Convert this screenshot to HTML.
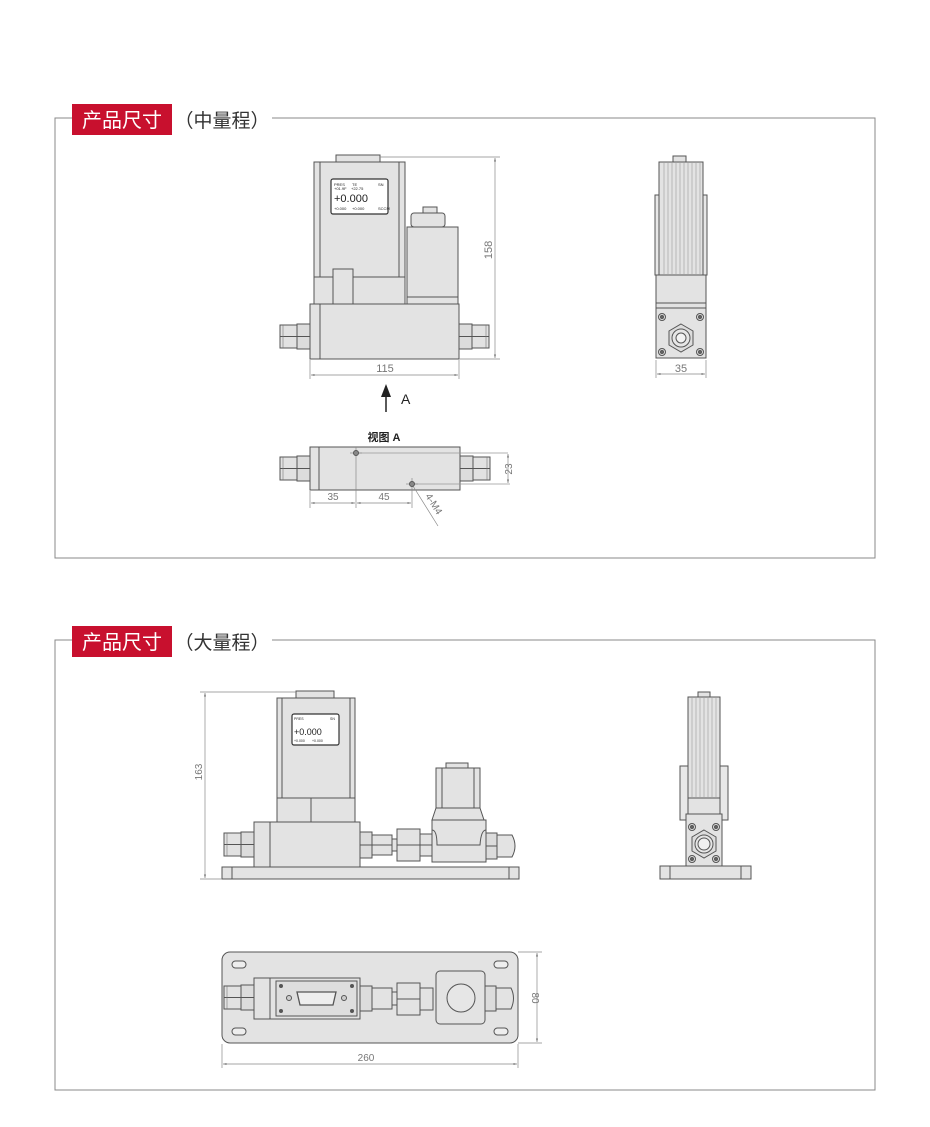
<!DOCTYPE html>
<html><head><meta charset="utf-8"><style>
html,body{margin:0;padding:0;background:#fff;}
svg{display:block;}
text{font-family:"Liberation Sans","Noto Sans CJK SC",sans-serif;}
</style></head><body>
<svg width="930" height="1127" viewBox="0 0 930 1127" xmlns="http://www.w3.org/2000/svg">
<defs>
<marker id="ar" viewBox="0 0 10 10" refX="10" refY="5" markerWidth="7" markerHeight="5" orient="auto-start-reverse"><path d="M0,2 L10,5 L0,8z" fill="#777"/></marker>
<g id="fitL">
 <rect x="0" y="1" width="17" height="23" fill="#e2e2e2" stroke="#555" stroke-width="1"/>
 <line x1="0" y1="12.5" x2="17" y2="12.5" stroke="#555"/>
 <line x1="3" y1="1" x2="3" y2="24" stroke="#777" stroke-width="0.6"/>
 <rect x="17" y="0" width="13" height="25" fill="#dcdcdc" stroke="#555"/>
 <line x1="17" y1="12.5" x2="30" y2="12.5" stroke="#555"/>
</g>
<g id="screw"><circle r="3.5" fill="#ddd" stroke="#555"/><circle r="1.5" fill="#666"/></g>
</defs>
<g stroke="#555" stroke-width="1" fill="#e3e3e3">

<!-- ===== Section 1 frame ===== -->
<path d="M72,118 H55 V558 H875 V118 H272" fill="none" stroke="#888"/>
<rect x="72" y="104" width="100" height="31" fill="#c8102e" stroke="none"/>
<text x="122" y="127" font-size="20" fill="#fff" stroke="none" text-anchor="middle">产品尺寸</text>
<text x="222" y="127" font-size="19" fill="#333" stroke="none" text-anchor="middle">（中量程）</text>

<!-- main view -->
<rect x="336" y="155" width="44" height="7"/>
<rect x="314" y="162" width="91" height="115"/>
<line x1="320" y1="162" x2="320" y2="277"/><line x1="399" y1="162" x2="399" y2="277"/>
<rect x="331" y="179" width="57" height="35" rx="2" fill="#fff" stroke="#333" stroke-width="1.2"/>
<g fill="#222" stroke="none" font-size="4">
<text x="334" y="186">PRES</text><text x="352" y="186">TE</text><text x="378" y="186">SN</text>
<text x="334" y="190">+01.9F</text><text x="351" y="190">+22.75</text>
<text x="334" y="202" font-size="11" font-family="Liberation Mono">+0.000</text>
<text x="334" y="210">+0.000</text><text x="352" y="210">+0.000</text><text x="378" y="210">SCCM</text>
</g>
<rect x="314" y="277" width="91" height="27"/>
<rect x="333" y="269" width="20" height="35" fill="#e3e3e3"/>
<rect x="423" y="207" width="14" height="7"/>
<rect x="411" y="213" width="34" height="14" rx="3"/>
<rect x="407" y="227" width="51" height="77"/>
<line x1="407" y1="297" x2="458" y2="297"/>
<rect x="310" y="304" width="149" height="55"/>
<line x1="320" y1="304" x2="320" y2="359"/>
<use href="#fitL" x="280" y="324"/>
<use href="#fitL" transform="translate(489,324) scale(-1,1)"/>
<!-- dims -->
<g stroke="#888" stroke-width="0.7" fill="none">
<line x1="380" y1="157" x2="500" y2="157"/><line x1="459" y1="359" x2="500" y2="359"/>
<line x1="495" y1="158" x2="495" y2="358" marker-start="url(#ar)" marker-end="url(#ar)"/>
<line x1="310" y1="360" x2="310" y2="379"/><line x1="459" y1="360" x2="459" y2="379"/>
<line x1="311" y1="375" x2="458" y2="375" marker-start="url(#ar)" marker-end="url(#ar)"/>
</g>
<text x="0" y="0" transform="translate(492,250) rotate(-90)" font-size="11" fill="#777" stroke="none" text-anchor="middle">158</text>
<text x="385" y="372" font-size="11" fill="#777" stroke="none" text-anchor="middle">115</text>
<line x1="386" y1="396" x2="386" y2="412" stroke="#222" stroke-width="1.5"/>
<path d="M381,397 L386,384 L391,397z" fill="#222" stroke="none"/>
<text x="401" y="404" font-size="14" fill="#222" stroke="none" font-family="Liberation Serif">A</text>

<!-- view A -->
<text x="384" y="441" font-size="11" fill="#222" stroke="none" text-anchor="middle" font-weight="bold">视图 A</text>
<rect x="310" y="447" width="150" height="43"/>
<line x1="319" y1="447" x2="319" y2="490"/>
<use href="#fitL" x="280" y="456"/>
<use href="#fitL" transform="translate(490,456) scale(-1,1)"/>
<g stroke="#888" stroke-width="0.7" fill="none">
<line x1="356" y1="453" x2="508" y2="453" stroke="#999"/><line x1="412" y1="484" x2="510" y2="484" stroke="#999"/>
<line x1="350" y1="453" x2="362" y2="453"/><line x1="356" y1="447" x2="356" y2="508"/>
<line x1="406" y1="484" x2="418" y2="484"/><line x1="412" y1="478" x2="412" y2="508"/>
<line x1="508" y1="454" x2="508" y2="483" marker-start="url(#ar)" marker-end="url(#ar)"/>
<line x1="310" y1="491" x2="310" y2="508"/>
<line x1="311" y1="503" x2="355" y2="503" marker-start="url(#ar)" marker-end="url(#ar)"/>
<line x1="357" y1="503" x2="411" y2="503" marker-start="url(#ar)" marker-end="url(#ar)"/>
<line x1="413" y1="486" x2="438" y2="526"/>
</g>
<circle cx="356" cy="453" r="2.5" fill="#888"/><circle cx="412" cy="484" r="2.5" fill="#888"/>
<text x="512" y="469" font-size="10" fill="#777" stroke="none" transform="rotate(-90 512 469)" text-anchor="middle">23</text>
<text x="333" y="500" font-size="10" fill="#777" stroke="none" text-anchor="middle">35</text>
<text x="384" y="500" font-size="10" fill="#777" stroke="none" text-anchor="middle">45</text>
<text x="0" y="0" transform="translate(425,496) rotate(58)" font-size="10" fill="#777" stroke="none">4-M4</text>

<!-- side view top -->
<rect x="673" y="156" width="13" height="6"/>
<rect x="655" y="195" width="52" height="80" fill="#e8e8e8"/>
<rect x="659" y="162" width="44" height="113"/>
<g stroke="#999" stroke-width="0.6">
<line x1="664" y1="163" x2="664" y2="274"/><line x1="668" y1="163" x2="668" y2="274"/><line x1="672" y1="163" x2="672" y2="274"/><line x1="676" y1="163" x2="676" y2="274"/><line x1="680" y1="163" x2="680" y2="274"/><line x1="684" y1="163" x2="684" y2="274"/><line x1="688" y1="163" x2="688" y2="274"/><line x1="692" y1="163" x2="692" y2="274"/><line x1="696" y1="163" x2="696" y2="274"/><line x1="700" y1="163" x2="700" y2="274"/>
</g>
<rect x="656" y="275" width="50" height="28"/>
<rect x="656" y="303" width="50" height="5"/>
<rect x="656" y="308" width="50" height="50"/>
<use href="#screw" x="662" y="317"/><use href="#screw" x="700" y="317"/>
<use href="#screw" x="662" y="352"/><use href="#screw" x="700" y="352"/>
<polygon points="681,324 693,331 693,345 681,352 669,345 669,331" fill="#ddd"/>
<circle cx="681" cy="338" r="9" fill="#e6e6e6"/><circle cx="681" cy="338" r="5" fill="#f3f3f3"/>
<g stroke="#888" stroke-width="0.7"><line x1="656" y1="360" x2="656" y2="378"/><line x1="706" y1="360" x2="706" y2="378"/>
<line x1="657" y1="374" x2="705" y2="374" marker-start="url(#ar)" marker-end="url(#ar)"/></g>
<text x="681" y="372" font-size="11" fill="#777" stroke="none" text-anchor="middle">35</text>

<!-- ===== Section 2 frame ===== -->
<path d="M72,640 H55 V1090 H875 V640 H272" fill="none" stroke="#888"/>
<rect x="72" y="626" width="100" height="31" fill="#c8102e" stroke="none"/>
<text x="122" y="649" font-size="20" fill="#fff" stroke="none" text-anchor="middle">产品尺寸</text>
<text x="222" y="649" font-size="19" fill="#333" stroke="none" text-anchor="middle">（大量程）</text>

<!-- front view large -->
<rect x="296" y="691" width="38" height="7"/>
<rect x="277" y="698" width="78" height="100"/>
<line x1="282" y1="698" x2="282" y2="798"/><line x1="350" y1="698" x2="350" y2="798"/>
<rect x="292" y="714" width="47" height="31" rx="2" fill="#fff" stroke="#333" stroke-width="1.2"/>
<g fill="#222" stroke="none" font-size="3.5">
<text x="294" y="720">PRES</text><text x="330" y="720">SN</text>
<text x="294" y="735" font-size="9" font-family="Liberation Mono">+0.000</text>
<text x="294" y="742">+0.000</text><text x="312" y="742">+0.000</text>
</g>
<rect x="277" y="798" width="78" height="24"/>
<line x1="311" y1="798" x2="311" y2="822"/>
<rect x="254" y="822" width="106" height="45"/>
<line x1="270" y1="822" x2="270" y2="867"/>
<use href="#fitL" x="224" y="832"/>
<rect x="360" y="832" width="12" height="26" fill="#dcdcdc"/><line x1="360" y1="845" x2="372" y2="845"/>
<rect x="372" y="835" width="20" height="20"/><line x1="372" y1="845" x2="392" y2="845"/>
<rect x="392" y="839" width="5" height="12"/>
<rect x="397" y="829" width="23" height="32"/><line x1="397" y1="845" x2="420" y2="845"/>
<rect x="420" y="834" width="12" height="22"/><line x1="420" y1="845" x2="432" y2="845"/>
<rect x="446" y="763" width="22" height="5"/>
<rect x="436" y="768" width="44" height="40"/>
<line x1="442" y1="768" x2="442" y2="808"/><line x1="474" y1="768" x2="474" y2="808"/>
<polygon points="436,808 480,808 484,820 432,820"/>
<rect x="432" y="820" width="54" height="42"/>
<path d="M432,830 Q437,830 437,845 L480,845 Q481,830 486,830" fill="none"/>
<rect x="486" y="833" width="11" height="26" fill="#dcdcdc"/><line x1="486" y1="846" x2="497" y2="846"/>
<path d="M497,835 H512 Q518,846 512,857 H497z"/>
<rect x="222" y="867" width="297" height="12"/>
<line x1="232" y1="867" x2="232" y2="879"/><line x1="509" y1="867" x2="509" y2="879"/>
<g stroke="#888" stroke-width="0.7">
<line x1="200" y1="692" x2="296" y2="692"/><line x1="200" y1="879" x2="222" y2="879"/>
<line x1="205" y1="693" x2="205" y2="878" marker-start="url(#ar)" marker-end="url(#ar)"/></g>
<text x="0" y="0" transform="translate(202,772) rotate(-90)" font-size="10" fill="#777" stroke="none" text-anchor="middle">163</text>

<!-- side view large -->
<rect x="698" y="692" width="12" height="5"/>
<rect x="680" y="766" width="48" height="54" fill="#e8e8e8"/>
<line x1="690" y1="766" x2="690" y2="820"/><line x1="718" y1="766" x2="718" y2="820"/>
<rect x="688" y="697" width="32" height="101"/>
<g stroke="#999" stroke-width="0.6">
<line x1="692" y1="698" x2="692" y2="797"/><line x1="696" y1="698" x2="696" y2="797"/><line x1="700" y1="698" x2="700" y2="797"/><line x1="704" y1="698" x2="704" y2="797"/><line x1="708" y1="698" x2="708" y2="797"/><line x1="712" y1="698" x2="712" y2="797"/><line x1="716" y1="698" x2="716" y2="797"/>
</g>
<rect x="688" y="798" width="32" height="16"/>
<rect x="686" y="814" width="36" height="52"/>
<use href="#screw" x="692" y="827"/><use href="#screw" x="716" y="827"/>
<use href="#screw" x="692" y="859"/><use href="#screw" x="716" y="859"/>
<polygon points="704,830 716,837 716,851 704,858 692,851 692,837" fill="#ddd"/>
<circle cx="704" cy="844" r="9" fill="#e6e6e6"/><circle cx="704" cy="844" r="6" fill="#f0f0f0"/>
<rect x="660" y="866" width="91" height="13"/>
<line x1="670" y1="866" x2="670" y2="879"/><line x1="741" y1="866" x2="741" y2="879"/>

<!-- top view large -->
<rect x="222" y="952" width="296" height="91" rx="8"/>
<rect x="232" y="961" width="14" height="7" rx="3.5" fill="#eee"/><rect x="494" y="961" width="14" height="7" rx="3.5" fill="#eee"/>
<rect x="232" y="1028" width="14" height="7" rx="3.5" fill="#eee"/><rect x="494" y="1028" width="14" height="7" rx="3.5" fill="#eee"/>
<use href="#fitL" x="224" y="985"/>
<rect x="254" y="978" width="106" height="41"/>
<line x1="270" y1="978" x2="270" y2="1019"/>
<rect x="276" y="981" width="81" height="35" fill="#dedede"/>
<circle cx="281" cy="986" r="1.5" fill="#555"/><circle cx="352" cy="986" r="1.5" fill="#555"/>
<circle cx="281" cy="1011" r="1.5" fill="#555"/><circle cx="352" cy="1011" r="1.5" fill="#555"/>
<circle cx="289" cy="998" r="2.5" fill="#ccc"/><circle cx="344" cy="998" r="2.5" fill="#ccc"/>
<path d="M297,992 H336 L333,1005 H300z" fill="#eee" stroke-width="1.3"/>
<rect x="360" y="986" width="12" height="25" fill="#dcdcdc"/>
<rect x="372" y="988" width="20" height="21"/>
<rect x="392" y="992" width="5" height="13"/>
<rect x="397" y="983" width="23" height="32"/><line x1="397" y1="999" x2="420" y2="999"/>
<rect x="420" y="988" width="13" height="22"/>
<rect x="436" y="971" width="49" height="53" rx="4"/>
<circle cx="461" cy="998" r="14" fill="#e6e6e6"/>
<rect x="485" y="986" width="11" height="25" fill="#dcdcdc"/>
<path d="M496,988 H511 Q516,998 511,1009 H496z"/>
<g stroke="#888" stroke-width="0.7">
<line x1="518" y1="952" x2="542" y2="952"/><line x1="518" y1="1043" x2="542" y2="1043"/>
<line x1="537" y1="953" x2="537" y2="1042" marker-start="url(#ar)" marker-end="url(#ar)"/>
<line x1="222" y1="1044" x2="222" y2="1068"/><line x1="518" y1="1044" x2="518" y2="1068"/>
<line x1="223" y1="1064" x2="517" y2="1064" marker-start="url(#ar)" marker-end="url(#ar)"/></g>
<text x="0" y="0" transform="translate(532,998) rotate(90)" font-size="10" fill="#777" stroke="none" text-anchor="middle">80</text>
<text x="366" y="1061" font-size="10" fill="#777" stroke="none" text-anchor="middle">260</text>
</g>
</svg>
</body></html>
